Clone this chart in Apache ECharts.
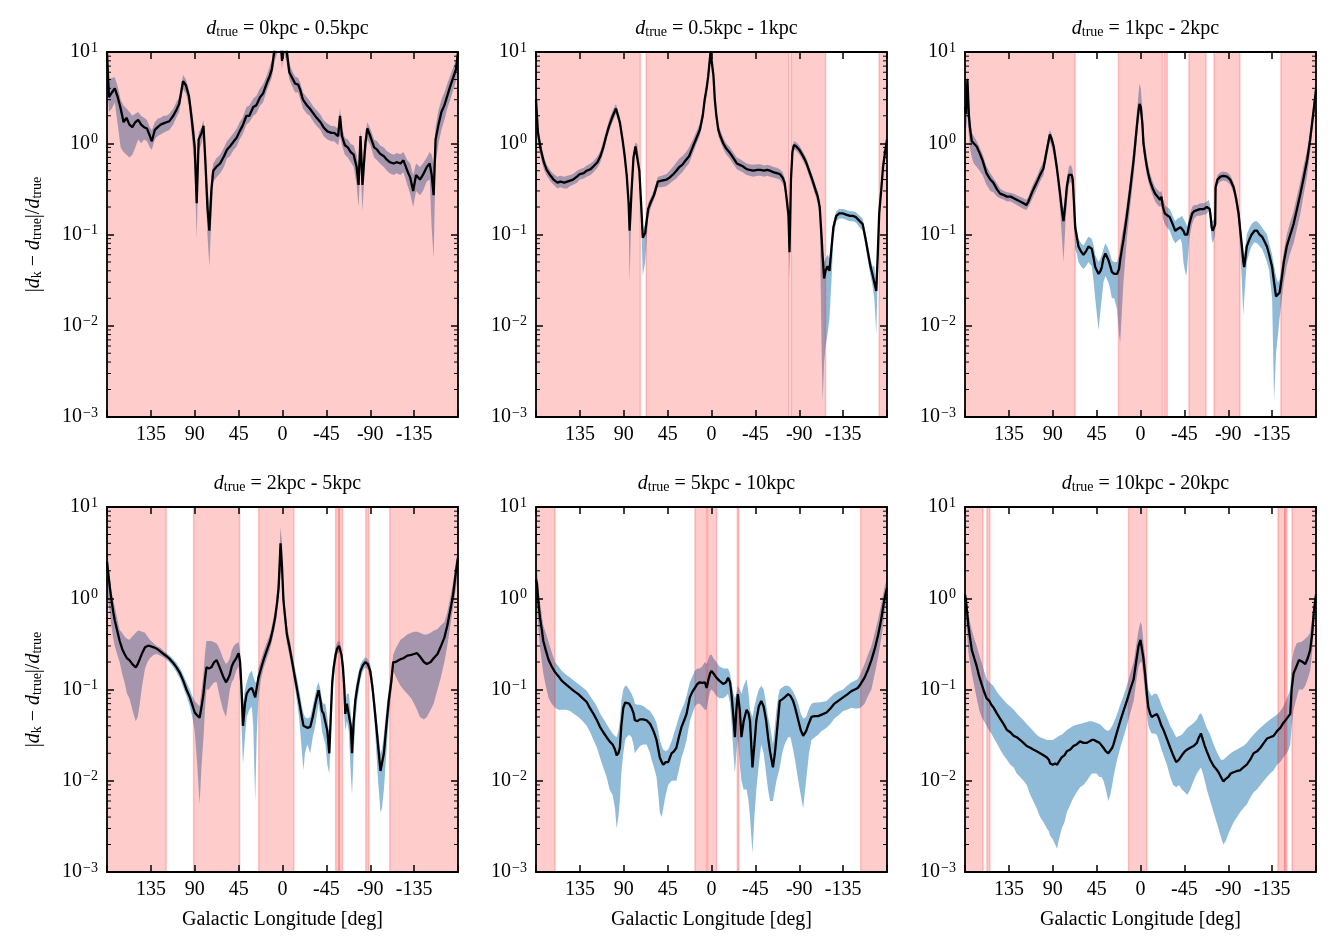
<!DOCTYPE html>
<html>
<head>
<meta charset="utf-8">
<title>Kinematic distance error vs Galactic longitude</title>
<script src="https://cdn.jsdelivr.net/npm/echarts@6/dist/echarts.min.js"></script>
<style>
  html, body { margin: 0; padding: 0; background: #fff; }
  #chart { width: 1336px; height: 952px; }
</style>
</head>
<body>
<div id="chart"></div>
<script>
// distance bins (panel titles)
const titles = ['0kpc - 0.5kpc', '0.5kpc - 1kpc', '1kpc - 2kpc', '2kpc - 5kpc', '5kpc - 10kpc', '10kpc - 20kpc']

// log axis ticks
const yMajor = [0.001, 0.01, 0.1, 1, 10]
const yMinor = [0.002, 0.003, 0.004, 0.005, 0.006, 0.007, 0.008, 0.009,
  0.02, 0.03, 0.04, 0.05, 0.06, 0.07, 0.08, 0.09,
  0.2, 0.3, 0.4, 0.5, 0.6, 0.7, 0.8, 0.9,
  2, 3, 4, 5, 6, 7, 8, 9]

// ---- panel 1: 0 - 0.5 kpc ----
const lon1 = [180, 178, 175, 172, 169, 166, 163, 160, 157, 154, 151, 148, 145, 142, 139, 136, 134, 131, 128, 125, 122, 119, 116, 112, 109, 106, 102, 99, 96, 93, 90, 88, 86, 83, 81, 79, 77, 75, 73, 71, 68, 64, 60, 57, 54, 50, 47, 44, 41, 37, 34, 30, 27, 23, 20, 16, 13, 11, 8, 5, 2, 0.5, -1, -4, -7, -10, -13, -16, -18, -21, -25, -28, -32, -35, -39, -42, -46, -50, -53, -57, -59, -61, -64, -67, -70, -73, -76, -78, -80, -82, -85, -87, -90, -94, -97, -100, -104, -107, -110, -114, -117, -121, -124, -128, -131, -134, -137, -141, -144, -148, -151, -153, -155, -157, -160, -163, -166, -169, -172, -175, -178, -180]
const med1 = [10, 3.2, 3.6, 4.0, 3.2, 2.4, 1.7, 1.9, 1.6, 1.5, 1.7, 1.8, 1.6, 1.5, 1.45, 1.2, 1.05, 1.4, 1.5, 1.6, 1.65, 1.7, 1.75, 2.0, 2.3, 2.7, 4.8, 4.3, 3.3, 1.8, 0.9, 0.22, 1.1, 1.3, 1.55, 0.6, 0.2, 0.11, 0.3, 0.5, 0.55, 0.6, 0.72, 0.85, 0.92, 1.05, 1.15, 1.35, 1.55, 2.0, 2.0, 2.5, 2.6, 3.2, 3.5, 4.6, 5.5, 6.4, 11, 14, 14, 8, 14, 11, 6.0, 5.2, 4.5, 4.4, 3.9, 3.0, 2.6, 2.4, 2.1, 1.9, 1.7, 1.5, 1.35, 1.3, 1.3, 1.2, 2.0, 1.2, 0.95, 0.9, 0.8, 0.75, 0.55, 0.35, 1.2, 0.35, 1.0, 1.45, 1.2, 0.9, 0.85, 0.77, 0.72, 0.66, 0.62, 0.6, 0.62, 0.6, 0.65, 0.5, 0.42, 0.3, 0.45, 0.4, 0.45, 0.55, 0.6, 0.45, 0.27, 1.1, 1.6, 2.2, 2.6, 3.3, 4.2, 5.2, 6.5, 10]
const lo1 = [5, 2.2, 2.4, 2.8, 1.6, 0.9, 0.8, 0.75, 0.7, 0.75, 0.9, 1.1, 1.0, 1.1, 1.05, 0.9, 0.85, 1.1, 1.2, 1.25, 1.3, 1.35, 1.4, 1.6, 1.9, 2.2, 3.9, 3.5, 2.6, 1.2, 0.5, 0.09, 0.8, 1.0, 1.2, 0.35, 0.1, 0.045, 0.15, 0.38, 0.42, 0.47, 0.55, 0.68, 0.72, 0.85, 0.92, 1.1, 1.25, 1.6, 1.7, 2.0, 2.1, 2.6, 2.8, 3.8, 4.6, 5.2, 8, 10, 10, 6.5, 10, 8, 5.0, 4.2, 3.6, 3.6, 3.1, 2.4, 2.1, 2.0, 1.7, 1.55, 1.4, 1.2, 1.1, 1.05, 1.05, 0.95, 1.2, 0.95, 0.75, 0.7, 0.62, 0.55, 0.35, 0.2, 0.6, 0.18, 0.7, 1.1, 0.95, 0.7, 0.65, 0.6, 0.55, 0.5, 0.47, 0.45, 0.47, 0.45, 0.48, 0.35, 0.28, 0.2, 0.3, 0.27, 0.3, 0.38, 0.4, 0.12, 0.055, 0.6, 1.0, 1.4, 1.8, 2.4, 3.0, 3.8, 4.8, 7]
const hi1 = [12, 5, 5.2, 5.3, 4.2, 3.0, 2.6, 2.4, 2.2, 2.0, 2.1, 2.2, 2.0, 1.9, 1.8, 1.5, 1.4, 1.7, 1.85, 1.9, 2.0, 2.0, 2.1, 2.4, 2.8, 3.2, 5.6, 5.0, 3.9, 2.4, 1.3, 0.5, 1.3, 1.5, 1.8, 0.9, 0.35, 0.2, 0.45, 0.6, 0.68, 0.75, 0.9, 1.05, 1.15, 1.3, 1.45, 1.7, 1.9, 2.5, 2.6, 3.1, 3.3, 4.0, 4.4, 5.6, 7.0, 8.0, 14, 18, 18, 12, 18, 14, 7.5, 6.2, 5.4, 5.2, 4.7, 3.6, 3.2, 2.9, 2.5, 2.3, 2.05, 1.8, 1.65, 1.55, 1.55, 1.45, 2.4, 1.45, 1.15, 1.1, 0.98, 0.95, 0.75, 0.55, 1.4, 0.55, 1.3, 1.7, 1.45, 1.1, 1.05, 0.95, 0.9, 0.82, 0.78, 0.75, 0.78, 0.76, 0.8, 0.65, 0.6, 0.45, 0.6, 0.55, 0.6, 0.7, 0.8, 0.75, 0.6, 1.5, 2.3, 3.0, 3.6, 4.5, 5.5, 6.8, 8, 12]
const bands1 = [[180, -180]]

// ---- panel 2: 0.5 - 1 kpc ----
const lon2 = [180, 178, 175, 172, 169, 165, 162, 158, 155, 151, 148, 145, 142, 138, 135, 131, 128, 124, 121, 117, 114, 111, 108, 105, 102, 98, 94, 91, 89, 87, 85, 84, 82, 80, 78, 76, 74, 72, 70.5, 68, 65, 62, 59, 55, 51, 46, 43, 39, 36, 33, 30, 26, 23, 19, 16, 12, 9, 7, 5, 3.4, 1, -0.7, -2, -3.4, -5, -7, -9, -12, -15, -19, -22, -26, -29, -32, -36, -39, -43, -47, -50, -54, -57, -60, -64, -67, -70, -73, -75, -77, -79, -80, -81.5, -83, -84.5, -87, -90, -94, -97, -101, -104, -107, -109, -111, -113, -114, -115.5, -117, -119, -121, -123, -125, -128, -131, -135, -138, -142, -145, -148, -152, -155, -158, -160, -163, -165, -167, -169, -170.5, -172, -174, -176, -178, -180]
const med2 = [3.0, 1.3, 0.85, 0.62, 0.51, 0.44, 0.40, 0.37, 0.38, 0.37, 0.38, 0.39, 0.40, 0.43, 0.46, 0.47, 0.50, 0.52, 0.56, 0.62, 0.72, 0.9, 1.2, 1.55, 1.9, 2.4, 1.7, 1.05, 0.72, 0.45, 0.22, 0.11, 0.3, 0.7, 0.92, 0.88, 0.5, 0.2, 0.092, 0.104, 0.19, 0.23, 0.27, 0.38, 0.39, 0.40, 0.42, 0.46, 0.5, 0.55, 0.58, 0.66, 0.72, 0.92, 1.1, 1.4, 2.0, 3.0, 4.0, 5.4, 10, 10, 5.5, 3.0, 2.0, 1.4, 1.2, 1.0, 0.88, 0.78, 0.7, 0.6, 0.58, 0.56, 0.52, 0.51, 0.5, 0.51, 0.51, 0.5, 0.51, 0.5, 0.48, 0.47, 0.46, 0.42, 0.37, 0.25, 0.16, 0.064, 0.4, 0.8, 0.96, 0.92, 0.85, 0.72, 0.62, 0.47, 0.38, 0.3, 0.26, 0.2, 0.09, 0.057, 0.033, 0.04, 0.045, 0.04, 0.07, 0.12, 0.16, 0.17, 0.17, 0.165, 0.16, 0.16, 0.155, 0.14, 0.13, 0.09, 0.068, 0.045, 0.037, 0.036, 0.024, 0.06, 0.17, 0.3, 0.56, 0.8, 1.1]
const lo2 = [2.0, 1.0, 0.7, 0.52, 0.44, 0.38, 0.35, 0.32, 0.33, 0.32, 0.32, 0.34, 0.35, 0.37, 0.4, 0.41, 0.43, 0.45, 0.48, 0.54, 0.62, 0.78, 1.05, 1.35, 1.65, 2.1, 1.5, 0.92, 0.62, 0.38, 0.15, 0.03, 0.22, 0.6, 0.82, 0.78, 0.42, 0.14, 0.035, 0.05, 0.15, 0.2, 0.24, 0.33, 0.33, 0.34, 0.36, 0.39, 0.41, 0.45, 0.48, 0.55, 0.6, 0.78, 0.95, 1.2, 1.7, 2.6, 3.5, 4.8, 9, 9, 4.8, 2.6, 1.7, 1.2, 1.05, 0.87, 0.76, 0.67, 0.6, 0.52, 0.5, 0.48, 0.45, 0.44, 0.43, 0.44, 0.44, 0.43, 0.44, 0.43, 0.42, 0.41, 0.4, 0.36, 0.32, 0.2, 0.1, 0.03, 0.33, 0.7, 0.86, 0.82, 0.76, 0.64, 0.55, 0.41, 0.33, 0.26, 0.22, 0.16, 0.005, 0.0015, 0.004, 0.006, 0.008, 0.012, 0.03, 0.09, 0.14, 0.15, 0.15, 0.145, 0.14, 0.14, 0.135, 0.12, 0.11, 0.075, 0.055, 0.036, 0.028, 0.02, 0.008, 0.04, 0.14, 0.26, 0.5, 0.7, 1.0]
const hi2 = [4.0, 1.6, 1.0, 0.72, 0.58, 0.5, 0.46, 0.43, 0.44, 0.43, 0.44, 0.45, 0.46, 0.5, 0.52, 0.54, 0.57, 0.6, 0.64, 0.72, 0.82, 1.05, 1.38, 1.8, 2.2, 2.7, 1.95, 1.2, 0.82, 0.52, 0.26, 0.13, 0.35, 0.8, 1.02, 0.98, 0.57, 0.24, 0.11, 0.13, 0.22, 0.26, 0.31, 0.43, 0.44, 0.46, 0.5, 0.56, 0.62, 0.68, 0.72, 0.8, 0.9, 1.1, 1.3, 1.65, 2.3, 3.4, 4.6, 6.2, 12, 12, 6.3, 3.4, 2.3, 1.6, 1.4, 1.15, 1.0, 0.9, 0.8, 0.7, 0.67, 0.64, 0.6, 0.59, 0.58, 0.59, 0.59, 0.57, 0.58, 0.57, 0.55, 0.54, 0.52, 0.48, 0.42, 0.29, 0.18, 0.075, 0.46, 0.9, 1.06, 1.02, 0.95, 0.8, 0.7, 0.53, 0.43, 0.34, 0.3, 0.23, 0.11, 0.07, 0.05, 0.055, 0.06, 0.055, 0.09, 0.14, 0.18, 0.19, 0.19, 0.185, 0.18, 0.18, 0.175, 0.16, 0.15, 0.105, 0.08, 0.055, 0.045, 0.045, 0.03, 0.07, 0.2, 0.35, 0.62, 0.9, 1.25]
const bands2 = [[180, 73], [67, -79.5], [-81.5, -117], [-172, -180]]

// ---- panel 3: 1 - 2 kpc ----
const lon3 = [180, 179, 177.5, 176, 175, 173, 171, 168, 165, 162, 158, 154, 151, 147, 144, 140, 137, 133, 130, 127, 123.5, 120, 117, 115, 113, 110, 106, 103, 99.6, 98, 96, 93, 91, 89, 86, 84, 82.5, 80.5, 79, 77, 75.6, 73.5, 72, 70.5, 69.5, 68, 67, 65, 63.6, 61, 58.5, 56, 53.4, 50, 48, 46.5, 43, 41, 39.7, 38, 36, 33, 31, 29.4, 27, 24, 22, 20.8, 19, 17.5, 14, 10.6, 7, 3.8, 2, 1, -0.3, -2, -3, -5, -6.5, -8, -10, -12.5, -15, -17.5, -20, -21.5, -23, -25, -27, -30, -33, -35.6, -38, -41, -42.5, -44, -45.5, -47, -48, -50, -53, -55, -58, -61, -65, -68, -70, -71, -72, -73, -74, -75.5, -76.6, -77, -79, -82, -85, -88.7, -92, -95.5, -98, -100.6, -102, -104, -105.5, -106.4, -108, -109, -112, -114, -117, -119.5, -122, -124.6, -127, -129.7, -132, -135, -137, -139, -141, -142.6, -145, -147, -150, -153, -157, -160, -164, -167, -171, -174, -176, -178, -180]
const med3 = [2.5, 2.1, 5.0, 2.0, 1.5, 1.05, 1.0, 0.92, 0.78, 0.65, 0.47, 0.4, 0.37, 0.31, 0.28, 0.27, 0.26, 0.26, 0.25, 0.24, 0.23, 0.22, 0.21, 0.23, 0.26, 0.31, 0.38, 0.45, 0.53, 0.65, 0.85, 1.25, 1.1, 0.92, 0.56, 0.38, 0.28, 0.18, 0.14, 0.22, 0.33, 0.45, 0.47, 0.45, 0.4, 0.2, 0.12, 0.09, 0.074, 0.065, 0.06, 0.065, 0.074, 0.07, 0.055, 0.044, 0.037, 0.04, 0.044, 0.055, 0.062, 0.053, 0.045, 0.039, 0.037, 0.037, 0.042, 0.053, 0.07, 0.087, 0.16, 0.31, 0.66, 1.5, 2.3, 2.7, 2.5, 1.6, 1.0, 0.7, 0.56, 0.46, 0.38, 0.32, 0.28, 0.26, 0.24, 0.26, 0.2, 0.17, 0.165, 0.155, 0.13, 0.11, 0.115, 0.12, 0.125, 0.11, 0.1, 0.1, 0.1, 0.13, 0.17, 0.18, 0.185, 0.19, 0.19, 0.2, 0.21, 0.19, 0.155, 0.12, 0.11, 0.12, 0.13, 0.33, 0.4, 0.43, 0.44, 0.43, 0.4, 0.33, 0.25, 0.17, 0.12, 0.074, 0.05, 0.044, 0.06, 0.074, 0.09, 0.1, 0.11, 0.11, 0.1, 0.095, 0.085, 0.074, 0.06, 0.044, 0.03, 0.021, 0.02, 0.023, 0.034, 0.05, 0.074, 0.095, 0.13, 0.18, 0.28, 0.4, 0.66, 1.1, 1.65, 2.5, 3.9]
const lo3 = [1.5, 1.4, 2.0, 1.2, 0.9, 0.7, 0.6, 0.55, 0.5, 0.45, 0.35, 0.3, 0.29, 0.26, 0.25, 0.24, 0.23, 0.23, 0.22, 0.21, 0.2, 0.19, 0.185, 0.2, 0.22, 0.26, 0.32, 0.38, 0.44, 0.55, 0.7, 1.05, 0.9, 0.75, 0.45, 0.28, 0.19, 0.09, 0.05, 0.13, 0.22, 0.35, 0.38, 0.36, 0.3, 0.12, 0.07, 0.06, 0.05, 0.045, 0.042, 0.045, 0.05, 0.045, 0.03, 0.02, 0.009, 0.015, 0.02, 0.03, 0.035, 0.03, 0.025, 0.02, 0.02, 0.015, 0.008, 0.0065, 0.015, 0.03, 0.09, 0.2, 0.45, 1.1, 1.8, 2.2, 2.0, 1.2, 0.8, 0.55, 0.45, 0.38, 0.32, 0.27, 0.23, 0.21, 0.2, 0.21, 0.15, 0.13, 0.12, 0.11, 0.09, 0.08, 0.085, 0.09, 0.08, 0.05, 0.04, 0.035, 0.045, 0.09, 0.13, 0.15, 0.16, 0.16, 0.165, 0.17, 0.18, 0.16, 0.12, 0.09, 0.08, 0.09, 0.1, 0.28, 0.35, 0.38, 0.39, 0.38, 0.35, 0.29, 0.21, 0.13, 0.08, 0.03, 0.013, 0.02, 0.035, 0.05, 0.065, 0.075, 0.082, 0.08, 0.075, 0.07, 0.06, 0.05, 0.04, 0.02, 0.0015, 0.005, 0.008, 0.012, 0.02, 0.03, 0.045, 0.06, 0.08, 0.11, 0.17, 0.26, 0.45, 0.8, 1.3, 2.0, 3.2]
const hi3 = [5.0, 4.5, 5.5, 3.0, 2.2, 1.3, 1.2, 1.05, 0.9, 0.76, 0.56, 0.47, 0.42, 0.36, 0.32, 0.3, 0.29, 0.285, 0.28, 0.27, 0.26, 0.25, 0.24, 0.26, 0.3, 0.36, 0.44, 0.53, 0.63, 0.78, 1.0, 1.4, 1.25, 1.05, 0.66, 0.45, 0.33, 0.22, 0.19, 0.28, 0.4, 0.55, 0.58, 0.55, 0.5, 0.28, 0.16, 0.11, 0.09, 0.08, 0.076, 0.085, 0.095, 0.09, 0.075, 0.06, 0.05, 0.055, 0.06, 0.07, 0.08, 0.07, 0.06, 0.052, 0.05, 0.05, 0.06, 0.075, 0.1, 0.12, 0.22, 0.42, 0.9, 2.1, 3.5, 4.5, 4.0, 2.3, 1.4, 0.9, 0.7, 0.56, 0.46, 0.38, 0.33, 0.31, 0.29, 0.3, 0.25, 0.21, 0.2, 0.19, 0.16, 0.14, 0.15, 0.155, 0.16, 0.15, 0.14, 0.13, 0.12, 0.16, 0.2, 0.21, 0.21, 0.22, 0.22, 0.23, 0.24, 0.22, 0.18, 0.15, 0.14, 0.15, 0.16, 0.38, 0.45, 0.48, 0.49, 0.48, 0.45, 0.37, 0.29, 0.2, 0.15, 0.09, 0.065, 0.06, 0.08, 0.1, 0.12, 0.13, 0.14, 0.14, 0.13, 0.12, 0.11, 0.1, 0.08, 0.06, 0.045, 0.035, 0.03, 0.032, 0.045, 0.065, 0.1, 0.13, 0.18, 0.25, 0.38, 0.55, 0.85, 1.4, 2.1, 3.1, 4.8]
const bands3 = [[180, 67], [22.6, -22.5], [-24.5, -27.5], [-49.7, -67.2], [-75.4, -102], [-144, -180]]

// ---- panel 4: 2 - 5 kpc ----
const lon4 = [180, 179, 177, 175.5, 173.5, 172, 169.5, 167, 164.5, 162, 159.5, 157, 154, 150.5, 148.5, 146.4, 144, 141, 138.5, 136, 132, 129, 125, 122, 118.5, 115.5, 112, 108.7, 105, 101.8, 98.5, 95, 92.5, 90, 87.5, 85, 83, 81, 79.5, 78, 75.5, 73, 70, 67.5, 66, 64, 61, 58, 56, 54, 52, 50, 47.5, 45, 43.5, 42, 40.5, 38.5, 36.7, 34, 31.5, 30, 28, 26.5, 24.7, 22, 19.5, 16, 12.7, 10, 7.5, 5.5, 4, 2, 0.5, -1, -2.5, -4.5, -7, -9.6, -12, -14.7, -17, -20, -21.5, -23, -25.5, -28.5, -31, -33.6, -35.5, -37, -39, -40.5, -42, -44, -46, -48, -49.5, -51, -52.5, -54.5, -56, -58, -59, -60.5, -62, -63.5, -64.4, -66, -68, -70, -71.3, -73, -74.7, -77, -80, -82.5, -85, -87.5, -90, -92.5, -95, -97.5, -100.5, -102, -104, -106.5, -109, -111.5, -113.5, -116, -121, -124, -128, -132, -135, -138, -141, -145, -148, -152, -155, -159, -162, -166, -169, -172.7, -175, -178, -180]
const med4 = [2.5, 2.0, 1.3, 0.97, 0.7, 0.57, 0.44, 0.34, 0.28, 0.245, 0.22, 0.21, 0.19, 0.175, 0.19, 0.215, 0.25, 0.29, 0.3, 0.3, 0.29, 0.28, 0.26, 0.245, 0.23, 0.215, 0.195, 0.175, 0.15, 0.125, 0.1, 0.082, 0.068, 0.056, 0.052, 0.049, 0.065, 0.09, 0.13, 0.175, 0.17, 0.175, 0.2, 0.21, 0.2, 0.17, 0.14, 0.12, 0.13, 0.146, 0.18, 0.2, 0.22, 0.25, 0.2, 0.1, 0.04, 0.07, 0.09, 0.1, 0.104, 0.095, 0.082, 0.085, 0.134, 0.17, 0.21, 0.27, 0.34, 0.45, 0.62, 0.9, 1.3, 4.0, 2.2, 0.94, 0.65, 0.4, 0.3, 0.21, 0.15, 0.104, 0.075, 0.049, 0.04, 0.039, 0.038, 0.039, 0.05, 0.069, 0.085, 0.098, 0.075, 0.058, 0.055, 0.054, 0.035, 0.02, 0.05, 0.12, 0.175, 0.24, 0.28, 0.3, 0.29, 0.24, 0.175, 0.1, 0.054, 0.07, 0.069, 0.04, 0.02, 0.045, 0.076, 0.11, 0.16, 0.185, 0.2, 0.19, 0.16, 0.1, 0.054, 0.028, 0.0128, 0.013, 0.02, 0.04, 0.076, 0.12, 0.2, 0.2, 0.215, 0.22, 0.235, 0.24, 0.245, 0.25, 0.23, 0.2, 0.19, 0.2, 0.22, 0.245, 0.29, 0.37, 0.5, 0.8, 1.1, 2.0, 2.8]
const lo4 = [1.2, 1.0, 0.7, 0.5, 0.36, 0.3, 0.24, 0.2, 0.15, 0.12, 0.09, 0.08, 0.06, 0.045, 0.05, 0.07, 0.11, 0.17, 0.2, 0.22, 0.24, 0.245, 0.235, 0.225, 0.21, 0.195, 0.175, 0.155, 0.13, 0.105, 0.085, 0.065, 0.05, 0.035, 0.015, 0.0055, 0.015, 0.03, 0.06, 0.1, 0.1, 0.11, 0.12, 0.12, 0.1, 0.08, 0.06, 0.05, 0.07, 0.1, 0.12, 0.13, 0.16, 0.18, 0.12, 0.04, 0.015, 0.03, 0.05, 0.06, 0.065, 0.04, 0.006, 0.03, 0.08, 0.13, 0.17, 0.22, 0.28, 0.37, 0.5, 0.72, 1.0, 2.0, 1.5, 0.75, 0.52, 0.32, 0.24, 0.17, 0.12, 0.075, 0.05, 0.02, 0.013, 0.02, 0.025, 0.02, 0.03, 0.04, 0.055, 0.07, 0.05, 0.035, 0.03, 0.025, 0.015, 0.012, 0.03, 0.08, 0.13, 0.2, 0.24, 0.26, 0.25, 0.2, 0.13, 0.05, 0.035, 0.045, 0.035, 0.012, 0.007, 0.02, 0.045, 0.08, 0.13, 0.16, 0.175, 0.165, 0.13, 0.08, 0.035, 0.012, 0.0045, 0.005, 0.008, 0.02, 0.05, 0.09, 0.16, 0.14, 0.11, 0.1, 0.09, 0.08, 0.07, 0.06, 0.05, 0.047, 0.05, 0.06, 0.07, 0.1, 0.13, 0.2, 0.3, 0.55, 0.8, 1.3, 2.0]
const hi4 = [3.5, 2.8, 1.6, 1.2, 0.95, 0.8, 0.6, 0.45, 0.42, 0.38, 0.36, 0.35, 0.38, 0.42, 0.44, 0.44, 0.43, 0.42, 0.38, 0.35, 0.32, 0.3, 0.285, 0.265, 0.25, 0.235, 0.215, 0.195, 0.17, 0.145, 0.12, 0.1, 0.085, 0.075, 0.07, 0.065, 0.1, 0.15, 0.25, 0.34, 0.34, 0.34, 0.33, 0.32, 0.3, 0.27, 0.22, 0.19, 0.2, 0.22, 0.27, 0.3, 0.32, 0.33, 0.26, 0.15, 0.07, 0.1, 0.12, 0.15, 0.16, 0.14, 0.12, 0.12, 0.17, 0.21, 0.26, 0.33, 0.41, 0.55, 0.76, 1.2, 2.0, 6.0, 4.0, 1.3, 0.8, 0.5, 0.37, 0.26, 0.19, 0.135, 0.1, 0.065, 0.055, 0.05, 0.048, 0.05, 0.065, 0.09, 0.11, 0.12, 0.1, 0.075, 0.07, 0.07, 0.05, 0.03, 0.08, 0.16, 0.22, 0.29, 0.33, 0.34, 0.33, 0.28, 0.21, 0.13, 0.07, 0.09, 0.09, 0.055, 0.035, 0.065, 0.1, 0.14, 0.19, 0.21, 0.225, 0.215, 0.19, 0.13, 0.075, 0.04, 0.02, 0.022, 0.032, 0.06, 0.1, 0.15, 0.24, 0.28, 0.35, 0.37, 0.4, 0.42, 0.43, 0.43, 0.42, 0.4, 0.4, 0.42, 0.44, 0.46, 0.5, 0.55, 0.7, 1.1, 1.5, 2.6, 3.2]
const bands4 = [[180, 119.3], [91.2, 44], [24.4, -11.6], [-54.5, -58], [-58, -61.5], [-85.4, -88.5], [-110, -180]]

// ---- panel 5: 5 - 10 kpc ----
const lon5 = [180, 179, 177.5, 176, 174, 172.5, 170, 167, 164, 160.5, 157, 153.7, 149, 145, 141, 136.6, 132, 128, 124.5, 121, 117.5, 114.4, 111, 107.6, 104.5, 101.4, 99, 97.3, 95.5, 94, 92.5, 90.5, 88.5, 87, 84.5, 82, 80, 78.6, 76, 73.4, 70, 66.6, 63, 61.5, 59, 56.4, 54.5, 53, 51, 49.5, 47, 44.4, 41, 38.5, 36, 33.5, 30.7, 28, 25.6, 22.2, 19.5, 17, 14.5, 12, 9.5, 6.8, 5, 3, 1.5, 0, -2, -5, -8, -12, -15, -17, -19, -20.5, -22.5, -24, -25.5, -27, -29, -30.7, -33, -36, -38, -39.5, -42, -44, -46, -48.5, -51, -53.5, -56, -58, -60, -63, -65, -66.6, -68.5, -70, -72.5, -75, -78.6, -81, -83.7, -86, -89, -91.5, -94, -97, -100, -102.5, -106, -109.3, -113, -118, -122, -126, -130, -135, -139, -143.5, -147, -150, -153, -157, -160.5, -164, -167.5, -171, -174, -176, -178, -180]
const med5 = [1.6, 1.44, 0.9, 0.62, 0.45, 0.34, 0.27, 0.21, 0.18, 0.155, 0.14, 0.125, 0.113, 0.104, 0.096, 0.089, 0.08, 0.073, 0.062, 0.054, 0.046, 0.039, 0.034, 0.03, 0.027, 0.025, 0.022, 0.019, 0.02, 0.023, 0.04, 0.063, 0.072, 0.074, 0.07, 0.063, 0.055, 0.046, 0.045, 0.047, 0.047, 0.046, 0.042, 0.039, 0.034, 0.028, 0.022, 0.018, 0.016, 0.015, 0.016, 0.016, 0.02, 0.021, 0.023, 0.03, 0.039, 0.046, 0.054, 0.082, 0.095, 0.104, 0.115, 0.12, 0.118, 0.12, 0.104, 0.13, 0.15, 0.16, 0.15, 0.135, 0.125, 0.115, 0.12, 0.135, 0.12, 0.089, 0.05, 0.03, 0.06, 0.089, 0.06, 0.03, 0.045, 0.06, 0.055, 0.045, 0.014, 0.025, 0.046, 0.065, 0.075, 0.065, 0.046, 0.03, 0.021, 0.014, 0.02, 0.03, 0.05, 0.075, 0.078, 0.082, 0.089, 0.085, 0.075, 0.062, 0.046, 0.036, 0.031, 0.035, 0.043, 0.05, 0.051, 0.051, 0.053, 0.056, 0.062, 0.07, 0.075, 0.082, 0.088, 0.096, 0.1, 0.104, 0.115, 0.135, 0.165, 0.21, 0.28, 0.4, 0.58, 0.8, 1.05, 1.3]
const lo5 = [0.9, 0.8, 0.45, 0.3, 0.2, 0.15, 0.11, 0.08, 0.07, 0.063, 0.06, 0.06, 0.06, 0.058, 0.054, 0.05, 0.045, 0.04, 0.034, 0.028, 0.023, 0.018, 0.014, 0.011, 0.008, 0.007, 0.005, 0.003, 0.004, 0.006, 0.012, 0.02, 0.028, 0.03, 0.032, 0.03, 0.025, 0.02, 0.022, 0.024, 0.025, 0.025, 0.02, 0.017, 0.014, 0.011, 0.007, 0.0045, 0.004, 0.005, 0.007, 0.009, 0.01, 0.01, 0.01, 0.013, 0.018, 0.022, 0.028, 0.045, 0.055, 0.065, 0.07, 0.07, 0.065, 0.06, 0.06, 0.08, 0.095, 0.1, 0.095, 0.085, 0.08, 0.08, 0.085, 0.09, 0.07, 0.045, 0.02, 0.012, 0.02, 0.03, 0.015, 0.01, 0.008, 0.008, 0.006, 0.004, 0.0016, 0.004, 0.008, 0.015, 0.025, 0.02, 0.012, 0.008, 0.006, 0.006, 0.008, 0.01, 0.012, 0.014, 0.02, 0.025, 0.03, 0.03, 0.022, 0.016, 0.01, 0.007, 0.005, 0.01, 0.02, 0.028, 0.03, 0.032, 0.035, 0.038, 0.042, 0.048, 0.052, 0.058, 0.06, 0.063, 0.062, 0.062, 0.063, 0.07, 0.085, 0.1, 0.15, 0.23, 0.36, 0.5, 0.75, 1.0]
const hi5 = [2.2, 2.0, 1.3, 0.9, 0.65, 0.5, 0.42, 0.33, 0.26, 0.2, 0.18, 0.16, 0.145, 0.135, 0.125, 0.115, 0.105, 0.097, 0.085, 0.075, 0.065, 0.055, 0.048, 0.042, 0.037, 0.033, 0.031, 0.03, 0.035, 0.045, 0.075, 0.1, 0.11, 0.11, 0.1, 0.09, 0.08, 0.07, 0.068, 0.068, 0.066, 0.062, 0.058, 0.055, 0.05, 0.043, 0.035, 0.028, 0.024, 0.022, 0.021, 0.022, 0.027, 0.033, 0.04, 0.05, 0.06, 0.07, 0.085, 0.12, 0.14, 0.16, 0.17, 0.17, 0.18, 0.2, 0.19, 0.22, 0.24, 0.24, 0.22, 0.2, 0.18, 0.17, 0.17, 0.17, 0.15, 0.12, 0.09, 0.08, 0.09, 0.11, 0.1, 0.09, 0.11, 0.13, 0.09, 0.06, 0.05, 0.065, 0.08, 0.1, 0.11, 0.1, 0.07, 0.05, 0.04, 0.025, 0.04, 0.06, 0.085, 0.1, 0.105, 0.11, 0.11, 0.105, 0.095, 0.085, 0.07, 0.055, 0.048, 0.05, 0.062, 0.07, 0.072, 0.072, 0.073, 0.075, 0.082, 0.09, 0.095, 0.1, 0.11, 0.12, 0.125, 0.13, 0.15, 0.19, 0.24, 0.3, 0.42, 0.6, 0.85, 1.1, 1.4, 1.6]
const bands5 = [[180, 160.5], [17, 5], [4, -5.3], [-26.5, -28], [-153, -180]]

// ---- panel 6: 10 - 20 kpc ----
const lon6 = [180, 179, 177.5, 176.6, 175, 173, 170.5, 168, 165.5, 163, 160.5, 157.8, 155, 153, 151, 147.5, 144, 140.5, 137, 133.5, 130, 127, 123.5, 120, 116.7, 113, 110, 106.5, 103, 99.5, 96, 94, 92.7, 90, 87.6, 85.5, 84, 80.8, 78, 75.6, 72, 68.8, 65.5, 62, 58.5, 55, 52.5, 50, 47.5, 45, 42, 40, 38, 35.5, 33, 31, 29, 27.7, 24.5, 20.8, 17.5, 14, 10.5, 7, 4.5, 2, 0, -1.4, -3, -4.8, -6.5, -8, -10, -11.6, -14, -16.8, -19, -21.5, -23.6, -27, -30.5, -33.5, -36.6, -39.5, -42.4, -45.5, -48, -51, -54.5, -57.8, -60, -62, -64, -66, -68, -71.5, -75, -78, -80, -82.5, -85, -87.5, -90, -92.5, -95.5, -99, -102, -105.5, -109, -112.5, -116, -119.5, -123, -126.5, -129.7, -133, -136.5, -140, -143.4, -146.5, -150, -152, -153.6, -155, -157, -160, -162.5, -164, -166.5, -169, -171.5, -174, -176, -177.6, -180]
const med6 = [1.1, 0.94, 0.65, 0.51, 0.38, 0.27, 0.22, 0.18, 0.14, 0.115, 0.095, 0.08, 0.075, 0.068, 0.064, 0.055, 0.048, 0.042, 0.036, 0.034, 0.031, 0.03, 0.028, 0.026, 0.024, 0.023, 0.022, 0.021, 0.02, 0.019, 0.018, 0.017, 0.0155, 0.015, 0.0155, 0.015, 0.016, 0.018, 0.019, 0.021, 0.022, 0.024, 0.025, 0.027, 0.026, 0.026, 0.027, 0.028, 0.028, 0.027, 0.026, 0.025, 0.023, 0.021, 0.02, 0.021, 0.023, 0.025, 0.033, 0.045, 0.058, 0.075, 0.1, 0.13, 0.2, 0.3, 0.35, 0.34, 0.22, 0.145, 0.09, 0.064, 0.054, 0.05, 0.052, 0.054, 0.048, 0.04, 0.036, 0.029, 0.023, 0.019, 0.016, 0.017, 0.019, 0.021, 0.022, 0.023, 0.024, 0.026, 0.03, 0.033, 0.028, 0.024, 0.021, 0.017, 0.0145, 0.0133, 0.0124, 0.011, 0.0098, 0.0105, 0.011, 0.012, 0.0124, 0.0128, 0.013, 0.014, 0.015, 0.017, 0.02, 0.021, 0.023, 0.026, 0.029, 0.03, 0.031, 0.035, 0.038, 0.043, 0.048, 0.05, 0.054, 0.1, 0.15, 0.18, 0.21, 0.2, 0.2, 0.19, 0.22, 0.27, 0.4, 0.67, 1.1]
const lo6 = [0.7, 0.55, 0.35, 0.26, 0.2, 0.15, 0.11, 0.08, 0.06, 0.05, 0.045, 0.04, 0.035, 0.033, 0.03, 0.026, 0.022, 0.019, 0.017, 0.015, 0.014, 0.012, 0.011, 0.01, 0.009, 0.007, 0.006, 0.005, 0.004, 0.0035, 0.003, 0.0028, 0.0025, 0.0023, 0.002, 0.0018, 0.0022, 0.003, 0.0035, 0.0045, 0.0055, 0.0065, 0.0075, 0.0085, 0.009, 0.01, 0.011, 0.012, 0.012, 0.012, 0.011, 0.011, 0.01, 0.008, 0.006, 0.007, 0.009, 0.011, 0.016, 0.023, 0.03, 0.04, 0.055, 0.075, 0.12, 0.18, 0.2, 0.2, 0.14, 0.09, 0.055, 0.04, 0.035, 0.033, 0.033, 0.032, 0.027, 0.022, 0.019, 0.015, 0.011, 0.009, 0.0085, 0.009, 0.008, 0.0075, 0.007, 0.008, 0.01, 0.012, 0.013, 0.014, 0.012, 0.01, 0.008, 0.006, 0.0045, 0.0035, 0.003, 0.0024, 0.002, 0.0022, 0.0026, 0.003, 0.0035, 0.004, 0.0045, 0.005, 0.0055, 0.0065, 0.0075, 0.008, 0.009, 0.01, 0.011, 0.012, 0.013, 0.015, 0.016, 0.018, 0.02, 0.022, 0.025, 0.04, 0.06, 0.08, 0.1, 0.1, 0.1, 0.11, 0.13, 0.16, 0.25, 0.45, 0.9]
const hi6 = [1.2, 1.1, 0.85, 0.7, 0.55, 0.45, 0.36, 0.3, 0.24, 0.2, 0.16, 0.13, 0.12, 0.115, 0.11, 0.095, 0.085, 0.077, 0.07, 0.065, 0.06, 0.055, 0.05, 0.046, 0.042, 0.038, 0.035, 0.032, 0.03, 0.029, 0.028, 0.028, 0.028, 0.028, 0.029, 0.03, 0.031, 0.032, 0.034, 0.036, 0.038, 0.04, 0.041, 0.042, 0.043, 0.044, 0.045, 0.045, 0.044, 0.043, 0.042, 0.04, 0.038, 0.036, 0.035, 0.037, 0.04, 0.043, 0.052, 0.068, 0.085, 0.11, 0.15, 0.2, 0.3, 0.45, 0.55, 0.5, 0.33, 0.22, 0.14, 0.1, 0.09, 0.085, 0.09, 0.09, 0.08, 0.068, 0.06, 0.05, 0.04, 0.035, 0.03, 0.031, 0.032, 0.035, 0.038, 0.04, 0.043, 0.047, 0.053, 0.055, 0.05, 0.043, 0.038, 0.032, 0.025, 0.021, 0.019, 0.017, 0.017, 0.018, 0.019, 0.02, 0.021, 0.022, 0.023, 0.024, 0.026, 0.029, 0.032, 0.035, 0.038, 0.041, 0.044, 0.047, 0.05, 0.053, 0.058, 0.065, 0.08, 0.09, 0.1, 0.2, 0.26, 0.32, 0.33, 0.33, 0.34, 0.36, 0.38, 0.42, 0.6, 0.85, 1.2]
const bands6 = [[180, 161.5], [157.5, 154.5], [12.3, -6.5], [-141, -148], [-148, -150.2], [-155.4, -180]]

const panels = [
  { lon: lon1, med: med1, lo: lo1, hi: hi1, bands: bands1 },
  { lon: lon2, med: med2, lo: lo2, hi: hi2, bands: bands2 },
  { lon: lon3, med: med3, lo: lo3, hi: hi3, bands: bands3 },
  { lon: lon4, med: med4, lo: lo4, hi: hi4, bands: bands4 },
  { lon: lon5, med: med5, lo: lo5, hi: hi5, bands: bands5 },
  { lon: lon6, med: med6, lo: lo6, hi: hi6, bands: bands6 }
]

const FONT = '"Liberation Serif", "DejaVu Serif", serif'
const lefts = [107, 536, 965]
const tops = [52, 507]
const plotW = 351
const plotH = 365

const axisLine = { show: true, onZero: false, lineStyle: { color: '#000', width: 1.8 } }
const majorTick = { show: true, inside: true, length: 7, lineStyle: { color: '#000', width: 1.5 } }

const supText = e => (e < 0 ? '\u2212' + (-e) : String(e))

const grid = []
const xAxis = []
const yAxis = []
const series = []
const title = []

panels.forEach((p, i) => {
  const row = Math.floor(i / 3)
  const col = i % 3
  const left = lefts[col]
  const top = tops[row]
  grid.push({ left: left, top: top, width: plotW, height: plotH, outerBoundsMode: 'none' })

  title.push({
    text: '{i|d}{sub|true}{n| = ' + titles[i] + '}',
    left: left + plotW / 2,
    top: top - 38,
    textAlign: 'center',
    textStyle: {
      fontWeight: 'normal',
      rich: {
        i: { fontFamily: FONT, fontSize: 20, fontStyle: 'italic', fontWeight: 'normal', color: '#000' },
        sub: { fontFamily: FONT, fontSize: 14, fontWeight: 'normal', color: '#000', verticalAlign: 'bottom', padding: [6, 0, 0, 0] },
        n: { fontFamily: FONT, fontSize: 20, fontWeight: 'normal', color: '#000' }
      }
    }
  })

  // bottom + top x axes
  xAxis.push({
    gridIndex: i, type: 'value', min: -180, max: 180, interval: 45, inverse: true, position: 'bottom', z: 10,
    axisLine: axisLine, axisTick: majorTick, splitLine: { show: false },
    axisLabel: {
      formatter: v => (Math.abs(v) === 180 ? '' : String(v)),
      color: '#000', fontFamily: FONT, fontSize: 20, margin: 8
    },
    name: row === 1 ? 'Galactic Longitude [deg]' : '',
    nameLocation: 'middle', nameGap: 38,
    nameTextStyle: { color: '#000', fontFamily: FONT, fontSize: 20 }
  })
  xAxis.push({
    gridIndex: i, type: 'value', min: -180, max: 180, interval: 45, inverse: true, position: 'top', z: 10,
    axisLine: axisLine, axisTick: majorTick, axisLabel: { show: false }, splitLine: { show: false }
  })

  // left + right log y axes
  yAxis.push({
    gridIndex: i, type: 'log', logBase: 10, min: 0.001, max: 10, position: 'left', z: 10,
    axisLine: axisLine, axisTick: majorTick, splitLine: { show: false }, minorTick: { show: false },
    axisLabel: {
      margin: 9,
      formatter: v => '{b|10}{s|' + supText(Math.round(Math.log10(v))) + '}',
      rich: {
        b: { fontFamily: FONT, fontSize: 20, color: '#000' },
        s: { fontFamily: FONT, fontSize: 14, color: '#000', verticalAlign: 'top', padding: [0, 0, 8, 1] }
      }
    },
    name: col === 0 ? '|{i|d}{sub|k} \u2212 {i|d}{sub|true}|/{i|d}{sub|true}' : '',
    nameLocation: 'middle', nameRotate: 90, nameGap: 63,
    nameTextStyle: {
      color: '#000', fontFamily: FONT, fontSize: 20,
      rich: {
        i: { fontFamily: FONT, fontSize: 20, fontStyle: 'italic', color: '#000' },
        sub: { fontFamily: FONT, fontSize: 14, color: '#000', verticalAlign: 'bottom', padding: [6, 0, 0, 0] }
      }
    }
  })
  yAxis.push({
    gridIndex: i, type: 'log', logBase: 10, min: 0.001, max: 10, position: 'right', z: 10,
    axisLine: axisLine, axisTick: majorTick, axisLabel: { show: false }, splitLine: { show: false }
  })

  const xi = 2 * i
  const yi = 2 * i

  // blue uncertainty band
  series.push({
    type: 'custom', xAxisIndex: xi, yAxisIndex: yi, z: 1, silent: true, clip: true,
    data: [[0, 1]], encode: { x: 0, y: 1 },
    renderItem: (params, api) => {
      const pts = []
      for (let k = 0; k < p.lon.length; k++) pts.push(api.coord([p.lon[k], p.hi[k]]))
      for (let k = p.lon.length - 1; k >= 0; k--) pts.push(api.coord([p.lon[k], p.lo[k]]))
      return { type: 'polygon', shape: { points: pts }, style: { fill: 'rgba(31,119,180,0.5)' } }
    }
  })

  // red shaded longitude ranges
  series.push({
    type: 'custom', xAxisIndex: xi, yAxisIndex: yi, z: 2, silent: true, clip: true,
    data: p.bands.map(b => [b[0], b[1], 1]), encode: { x: [0, 1], y: 2 },
    renderItem: (params, api) => {
      const a = api.coord([api.value(0), 10])
      const b = api.coord([api.value(1), 0.001])
      return {
        type: 'rect',
        shape: { x: Math.min(a[0], b[0]), y: a[1], width: Math.abs(b[0] - a[0]), height: b[1] - a[1] },
        style: { fill: 'rgba(255,0,0,0.2)', stroke: 'rgba(255,0,0,0.2)', lineWidth: 1.5 }
      }
    }
  })

  // median line
  series.push({
    type: 'line', xAxisIndex: xi, yAxisIndex: yi, z: 3, silent: true,
    data: p.lon.map((x, k) => [x, p.med[k]]),
    showSymbol: false, symbol: 'none',
    lineStyle: { color: '#000', width: 2.3 }
  })

  // minor log ticks on both sides
  series.push({
    type: 'custom', xAxisIndex: xi, yAxisIndex: yi, z: 5, silent: true,
    data: yMinor.map(v => [0, v]), encode: { x: 0, y: 1 },
    renderItem: (params, api) => {
      const l = api.coord([180, api.value(1)])
      const r = api.coord([-180, api.value(1)])
      const st = { stroke: '#000', lineWidth: 1 }
      return {
        type: 'group',
        children: [
          { type: 'line', shape: { x1: l[0], y1: l[1], x2: l[0] + 4, y2: l[1] }, style: st },
          { type: 'line', shape: { x1: r[0] - 4, y1: r[1], x2: r[0], y2: r[1] }, style: st }
        ]
      }
    }
  })
})

const chart = echarts.init(document.getElementById('chart'), null, { renderer: 'canvas' })
chart.setOption({
  animation: false,
  backgroundColor: '#fff',
  title: title,
  grid: grid,
  xAxis: xAxis,
  yAxis: yAxis,
  series: series
})
</script>
</body>
</html>
